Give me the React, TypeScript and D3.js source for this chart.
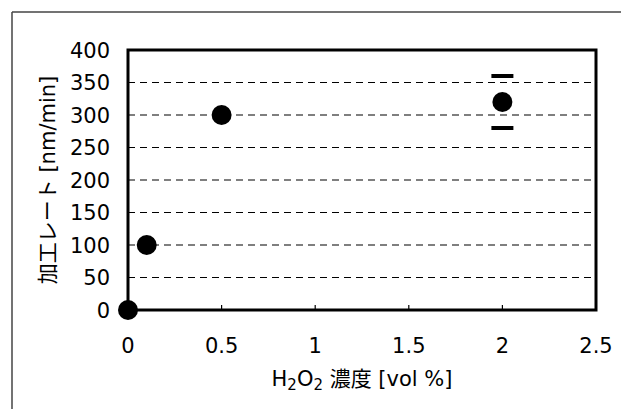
import React from "react";
import * as d3 from "d3";

const concentration = [0, 0.1, 0.5, 2];
const rate = [0, 100, 300, 320];
const errUpper = [null, null, null, 360];
const errLower = [null, null, null, 280];
const xTicks = [0, 0.5, 1, 1.5, 2, 2.5];
const yTicks = [0, 50, 100, 150, 200, 250, 300, 350, 400];

const width = 621;
const height = 409;
const margin = { top: 50, right: 25, bottom: 99, left: 128 };
const font = "'DejaVu Sans', 'Noto Sans CJK JP', sans-serif";

const App = () => {
    const x = d3
        .scaleLinear()
        .domain([0, 2.5])
        .range([margin.left, width - margin.right]);
    const y = d3
        .scaleLinear()
        .domain([0, 400])
        .range([height - margin.bottom, margin.top]);

    const [x0, x1] = x.range();
    const [y0, y1] = y.range();

    return (
        <svg
            width={width}
            height={height}
            style={{ position: "absolute", left: 0, top: 0, background: "white" }}
        >
            {/* outer frame */}
            <line x1={12} y1={12} x2={width} y2={12} stroke="#444" strokeWidth={1.5} />
            <line x1={12} y1={12} x2={12} y2={height} stroke="#444" strokeWidth={1.5} />

            {/* grid */}
            {yTicks
                .filter(t => t > 0 && t < 400)
                .map(t => (
                    <line
                        key={t}
                        x1={x0}
                        x2={x1}
                        y1={y(t)}
                        y2={y(t)}
                        stroke="#000"
                        strokeWidth={1.2}
                        strokeDasharray="7 5"
                    />
                ))}

            {/* x ticks inside */}
            {xTicks
                .filter(t => t > 0 && t < 2.5)
                .map(t => (
                    <line key={t} x1={x(t)} x2={x(t)} y1={y0} y2={y0 - 5} stroke="#000" strokeWidth={1.2} />
                ))}

            {/* plot frame */}
            <rect
                x={x0}
                y={y1}
                width={x1 - x0}
                height={y0 - y1}
                fill="none"
                stroke="#000"
                strokeWidth={3}
            />

            {/* tick labels */}
            {yTicks.map(t => (
                <text
                    key={t}
                    x={x0 - 18}
                    y={y(t)}
                    dy="0.36em"
                    textAnchor="end"
                    fontFamily={font}
                    fontSize={21}
                    fill="#000"
                >
                    {t}
                </text>
            ))}
            {xTicks.map(t => (
                <text
                    key={t}
                    x={x(t)}
                    y={353}
                    textAnchor="middle"
                    fontFamily={font}
                    fontSize={21}
                    fill="#000"
                >
                    {t}
                </text>
            ))}

            {/* axis titles */}
            <text
                transform={`translate(55 ${(y0 + y1) / 2}) rotate(-90)`}
                textAnchor="middle"
                fontFamily={font}
                fontSize={21}
                fill="#000"
            >
                加工レート [nm/min]
            </text>
            <text
                x={362}
                y={386}
                textAnchor="middle"
                fontFamily={font}
                fontSize={21}
                fill="#000"
            >
                H
                <tspan fontSize={15} dy={4}>2</tspan>
                <tspan dy={-4}>O</tspan>
                <tspan fontSize={15} dy={4}>2</tspan>
                <tspan dy={-4}> 濃度 [vol %]</tspan>
            </text>

            {/* error caps */}
            {concentration.map((c, i) =>
                errUpper[i] == null ? null : (
                    <g key={`e${i}`}>
                        <rect x={x(c) - 11} y={y(errUpper[i]) - 2} width={22} height={4} fill="#000" />
                        <rect x={x(c) - 11} y={y(errLower[i]) - 2} width={22} height={4} fill="#000" />
                    </g>
                )
            )}

            {/* points */}
            {concentration.map((c, i) => (
                <circle key={i} cx={x(c)} cy={y(rate[i])} r={10} fill="#000" />
            ))}
        </svg>
    );
};

export default App;
